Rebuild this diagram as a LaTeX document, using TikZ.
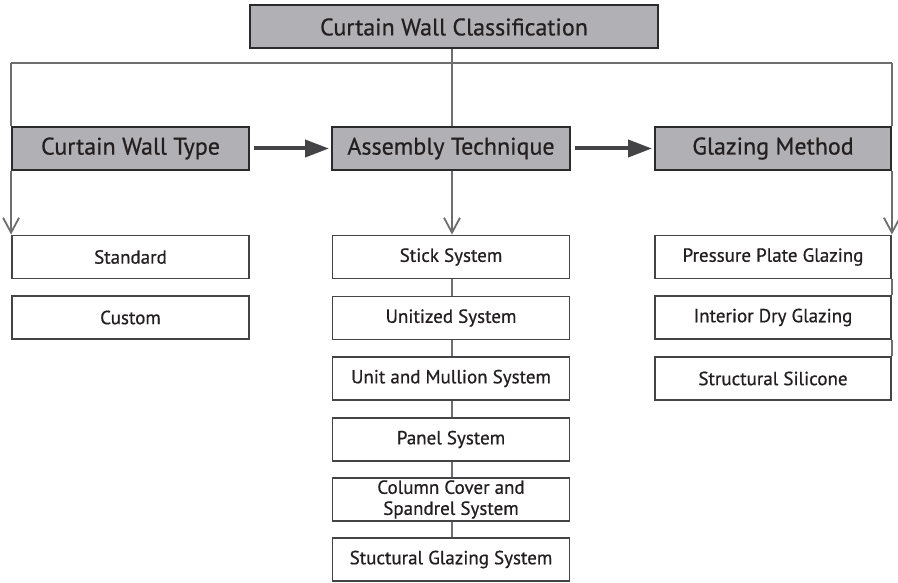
\documentclass[tikz,border=0pt]{standalone}
\usepackage{fontspec}
\setmainfont{PT Sans}[FakeBold=0.6,BoldFont=PT Sans,BoldFeatures={FakeBold=0.6}]
\usetikzlibrary{arrows.meta}
\definecolor{boxgray}{HTML}{B1B1B5}
\definecolor{edgedark}{HTML}{2B2B2B}
\definecolor{linegray}{HTML}{6E6E70}
\definecolor{arrowdark}{HTML}{444446}
\definecolor{inkdark}{HTML}{231F20}
\tikzset{
    head/.style={draw=edgedark, line width=2pt, fill=boxgray, text=inkdark, minimum height=43pt, inner sep=0pt, font=\fontsize{24}{26}\selectfont},
    item/.style={draw=arrowdark, line width=1.8pt, fill=white, text=inkdark, minimum width=237pt, minimum height=43pt, inner sep=0pt, align=center, font=\fontsize{19}{22}\selectfont},
    link/.style={draw=linegray, line width=1.8pt},
    flow/.style={draw=arrowdark, line width=4pt, -{Triangle[length=24pt,width=17pt]}, shorten <=4pt, shorten >=2pt},
    drop/.style={link, -{Straight Barb[length=15pt,width=16pt,line width=1.8pt]}}
}
\begin{document}
\begin{tikzpicture}[x=1pt,y=-1pt]
    \useasboundingbox (0,0) rectangle (898,583);
    \node[head, minimum width=408pt] (cls) at (454,27) {Curtain Wall Classification};
    \node[head, minimum width=237pt] (type) at (130.5,148.5) {Curtain Wall Type};
    \node[head, minimum width=238pt] (asm) at (451,148.5) {Assembly Technique};
    \node[head, minimum width=236pt] (glz) at (773,148.5) {Glazing Method};
    \node[item] (std) at (130.5,257) {Standard};
    \node[item] (cust) at (130.5,317.5) {Custom};
    \node[item] (stick) at (451,257) {Stick System};
    \node[item] (unit) at (451,318) {Unitized System};
    \node[item] (mull) at (451,378.5) {Unit and Mullion System};
    \node[item] (panel) at (451,439.5) {Panel System};
    \node[item] (col) at (451,499.5) {Column Cover and\\[-1pt]Spandrel System};
    \node[item] (stuct) at (451,559.5) {Stuctural Glazing System};
    \node[item, minimum width=236pt] (ppg) at (773,257) {Pressure Plate Glazing};
    \node[item, minimum width=236pt] (idg) at (773,317.5) {Interior Dry Glazing};
    \node[item, minimum width=236pt] (ss) at (773,378.5) {Structural Silicone};
    \coordinate (bus) at (452,63);
    \draw[link] (cls.south -| bus) -- (bus);
    \draw[link] (type.north west |- bus) -- (glz.north east |- bus);
    \draw[link] (type.north west |- bus) -- (type.north west);
    \draw[link] (glz.north east |- bus) -- (glz.north east);
    \draw[link] (bus) -- (asm.north -| bus);
    \draw[drop] (type.south west) -- (std.north west);
    \draw[drop] (asm.south -| bus) -- (stick.north -| bus);
    \draw[drop] (glz.south east) -- (ppg.north east);
    \draw[link] (stick.south -| bus) -- (unit.north -| bus);
    \draw[link] (unit.south -| bus) -- (mull.north -| bus);
    \draw[link] (mull.south -| bus) -- (panel.north -| bus);
    \draw[link] (panel.south -| bus) -- (col.north -| bus);
    \draw[link] (col.south -| bus) -- (stuct.north -| bus);
    \draw[link] (ppg.south east) -- (idg.north east);
    \draw[link] (idg.south east) -- (ss.north east);
    \draw[flow] (type) -- (asm);
    \draw[flow] (asm) -- (glz);
\end{tikzpicture}
\end{document}
